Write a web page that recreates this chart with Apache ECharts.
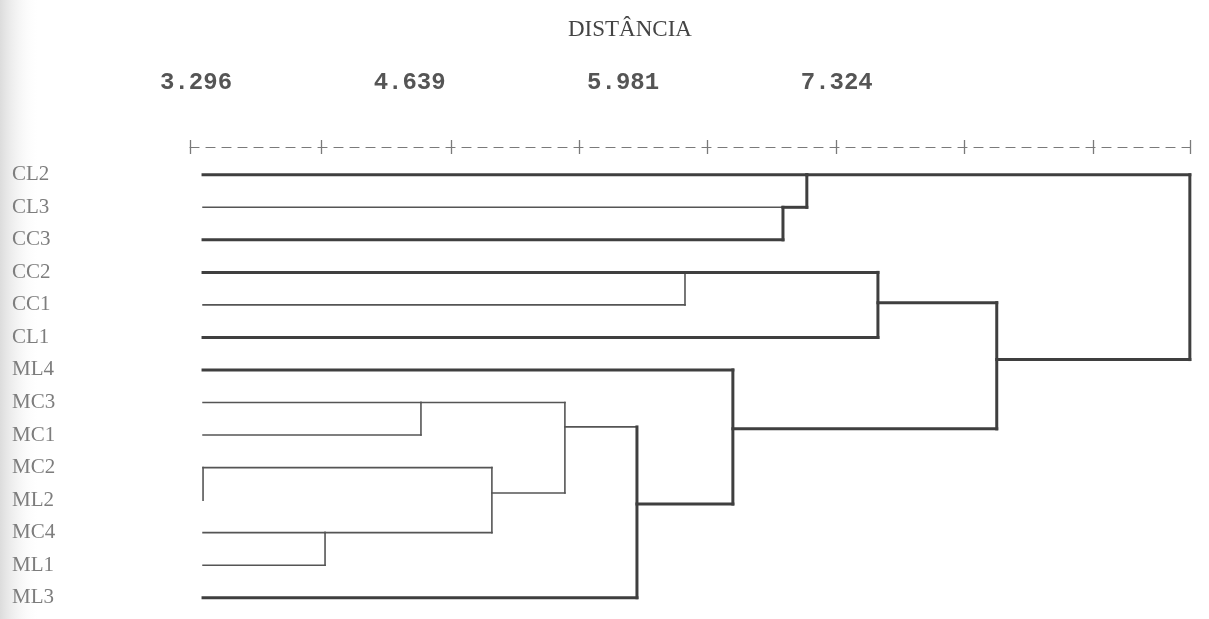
<!DOCTYPE html>
<html>
<head>
<meta charset="utf-8">
<script src="https://cdn.jsdelivr.net/npm/echarts@6/dist/echarts.min.js"></script>
<style>html,body{margin:0;padding:0;background:#fff;}#c{width:1209px;height:619px;}</style>
</head>
<body>
<div id="c"></div>
<script>
// ---- data ----
const titleText = 'DISTÂNCIA';
const leaves = ['CL2','CL3','CC3','CC2','CC1','CL1','ML4','MC3','MC1','MC2','ML2','MC4','ML1','ML3'];
const leafStart = 3.340;            // distance where leaf lines begin
// merges: node ids 0..13 are leaves, merge k creates node 14+k
const mergeA    = [9, 11, 7, 14, 16, 18, 6, 3, 21, 1, 0, 22, 24];
const mergeB    = [10, 12, 8, 15, 17, 13, 19, 4, 5, 2, 23, 20, 25];
const mergeDist = [3.340, 4.107, 4.710, 5.156, 5.615, 6.068, 6.671, 6.370, 7.583, 6.986, 7.136, 8.330, 9.544];
const mergeRow  = [9, 11, 7, 9.78, 7.75, 10.12, 7.81, 3, 3.93, 1, 0, 5.68, 3];
const tickLabels = [3.296, 4.639, 5.981, 7.324];
const crossMarks = [3.258, 4.082, 4.899, 5.703, 6.508, 7.319, 8.123, 8.934, 9.545];

// ---- styles ----
const thinH = [1,4,7,8,9,10,11,12,14,15,16,17,18];
const thinV = [14,15,16,17,18,21];

const N = leaves.length;
const nodeDist = id => id < N ? leafStart : mergeDist[id - N];
const nodeRow  = id => id < N ? id : mergeRow[id - N];

const segs = [];
mergeDist.forEach((d, k) => {
  const a = mergeA[k], b = mergeB[k];
  [a, b].forEach(c => {
    segs.push([nodeDist(c), nodeRow(c), d, nodeRow(c), thinH.includes(c) ? 0 : 1]);
  });
  segs.push([d, nodeRow(a), d, nodeRow(b), thinV.includes(N + k) ? 0 : 1]);
});

const chart = echarts.init(document.getElementById('c'), null, {renderer: 'canvas'});
chart.setOption({
  backgroundColor: '#fff',
  animation: false,
  title: {
    text: titleText, left: 563, top: 13,
    textStyle: {fontFamily: 'Liberation Serif', fontSize: 23, fontWeight: 'normal', color: '#444'}
  },
  graphic: [{
    type: 'rect', left: 0, top: 0, z: -1, silent: true,
    shape: {width: 40, height: 619},
    style: {fill: new echarts.graphic.LinearGradient(0, 0, 1, 0, [
      {offset: 0, color: '#dcdcdc'}, {offset: 1, color: 'rgba(255,255,255,0)'}])}
  }],
  grid: {left: 190, right: 19, top: 158.5, bottom: 5},
  xAxis: [{
    type: 'value', position: 'top', min: 3.258, max: 9.545, offset: 11.5,
    axisLine: {show: true, onZero: false, lineStyle: {color: '#7a7a7a', width: 1.2, type: [9, 7]}},
    axisTick: {show: true, customValues: crossMarks, length: 7, inside: false,
               lineStyle: {color: '#7a7a7a', width: 1.3}},
    axisLabel: {show: true, customValues: tickLabels, margin: 52,
                formatter: v => v.toFixed(3),
                fontFamily: 'Liberation Mono', fontSize: 24, fontWeight: 'bold', color: '#555'},
    splitLine: {show: false}
  }, {
    type: 'value', position: 'top', min: 3.258, max: 9.545, offset: 11.5,
    axisLine: {show: false, onZero: false},
    axisTick: {show: true, customValues: crossMarks, length: 7, inside: true,
               lineStyle: {color: '#7a7a7a', width: 1.3}},
    axisLabel: {show: false},
    splitLine: {show: false}
  }],
  yAxis: [{
    type: 'category', data: leaves, inverse: true,
    axisLine: {show: false}, axisTick: {show: false}, splitLine: {show: false},
    axisLabel: {align: 'left', margin: 178, fontFamily: 'Liberation Serif', fontSize: 21, color: '#7d7d7d'}
  }, {
    type: 'value', min: -0.5, max: 13.5, inverse: true, show: false
  }],
  series: [{
    type: 'custom', xAxisIndex: 0, yAxisIndex: 1, clip: false,
    data: segs,
    encode: {x: [0, 2], y: [1, 3]},
    renderItem: (params, api) => {
      const p1 = api.coord([api.value(0), api.value(1)]);
      const p2 = api.coord([api.value(2), api.value(3)]);
      const thick = api.value(4) === 1;
      return {
        type: 'line',
        shape: {x1: p1[0], y1: p1[1], x2: p2[0], y2: p2[1]},
        style: {stroke: thick ? '#3f3f3f' : '#555', lineWidth: thick ? 3 : 1.6, lineCap: 'square'}
      };
    }
  }]
});
</script>
</body>
</html>
